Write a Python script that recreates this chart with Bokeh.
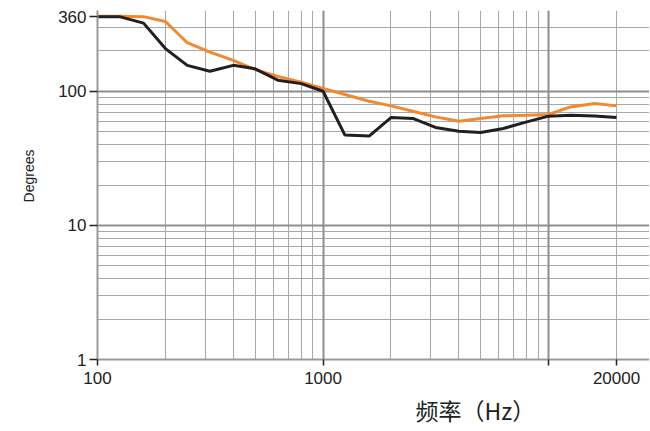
from bokeh.plotting import figure
from bokeh.models import FixedTicker, Grid, Title, Range1d
from bokeh.embed import file_html
from bokeh.resources import INLINE

freq = [100, 125, 160, 200, 250, 315, 400, 500, 630, 800, 1000, 1250, 1600,
        2000, 2500, 3150, 4000, 5000, 6300, 8000, 10000, 12500, 16000, 20000]
black_vals = [360, 360, 322, 208, 156, 141, 156, 147, 121, 114, 100, 47.1, 46.3,
              63.7, 62.7, 53.7, 50.4, 49.3, 52.8, 59.1, 65.2, 66.3, 65.5, 63.7]
orange_vals = [362, 362, 360, 331, 230, 196, 170, 145, 129, 117, 105, 94.5, 84.3,
               77.8, 71, 64.4, 59.8, 62.6, 65.6, 66.3, 67.1, 76.4, 81, 77.8]

x_ticks = [100, 1000, 10000, 20000]
x_tick_labels = {100: "100", 1000: "1000", 10000: "", 20000: "20000"}
y_ticks = [1, 10, 100, 360]
x_major_grid = [1000, 10000]
x_minor_grid = [200, 300, 400, 500, 600, 700, 800, 900,
                2000, 3000, 4000, 5000, 6000, 7000, 8000, 9000, 20000]
y_major_grid = [10, 100, 400]
y_minor_grid = [2, 3, 4, 5, 6, 7, 8, 9, 20, 30, 40, 50, 60, 70, 80, 90, 200, 300]

x_label = "频率（Hz）"
y_label = "Degrees"

p = figure(width=649, height=430, x_axis_type="log", y_axis_type="log",
           x_range=Range1d(100, 28000), y_range=Range1d(1, 400),
           output_backend="svg", toolbar_location=None,
           min_border_left=94, min_border_top=10, min_border_right=0,
           min_border_bottom=70)
p.outline_line_color = None
p.background_fill_color = "white"
p.border_fill_color = "white"

p.xgrid.visible = False
p.ygrid.visible = False

minor_col = "#a9a9a9"
major_col = "#8e8e8e"
p.add_layout(Grid(dimension=0, ticker=FixedTicker(ticks=x_minor_grid),
                  grid_line_color=minor_col, grid_line_width=1))
p.add_layout(Grid(dimension=1, ticker=FixedTicker(ticks=y_minor_grid),
                  grid_line_color=minor_col, grid_line_width=1))
p.add_layout(Grid(dimension=0, ticker=FixedTicker(ticks=x_major_grid),
                  grid_line_color=major_col, grid_line_width=2))
p.add_layout(Grid(dimension=1, ticker=FixedTicker(ticks=y_major_grid),
                  grid_line_color=major_col, grid_line_width=2))

for ax in (p.xaxis[0], p.yaxis[0]):
    ax.axis_line_color = "#999999"
    ax.axis_line_width = 2
    ax.major_tick_line_color = "#222222"
    ax.major_tick_line_width = 1.5
    ax.major_tick_in = 0
    ax.minor_tick_line_color = None
    ax.major_label_text_font = "Liberation Sans"
    ax.major_label_text_font_size = "17px"
    ax.major_label_text_color = "#222222"

p.xaxis[0].ticker = FixedTicker(ticks=x_ticks)
p.xaxis[0].major_label_overrides = x_tick_labels
p.xaxis[0].major_tick_out = 6
p.xaxis[0].major_label_standoff = 6
p.yaxis[0].ticker = FixedTicker(ticks=y_ticks)
p.yaxis[0].major_label_overrides = {1: "1", 10: "10", 100: "100", 360: "360"}
p.yaxis[0].major_tick_out = 8
p.yaxis[0].major_label_standoff = 3

p.line(freq, orange_vals, line_color="#f2892f", line_width=3)
p.line(freq, black_vals, line_color="#231f20", line_width=3)

p.add_layout(Title(text=x_label, align="left", offset=318,
                   text_font="Noto Sans CJK SC", text_font_size="23px",
                   text_font_style="normal", text_color="#222222",
                   standoff=8), "below")
p.add_layout(Title(text=y_label, align="right", offset=139,
                   text_font="Liberation Sans", text_font_size="14px",
                   text_font_style="normal", text_color="#222222",
                   standoff=37), "left")

open("out.html", "w").write(file_html(p, INLINE))
